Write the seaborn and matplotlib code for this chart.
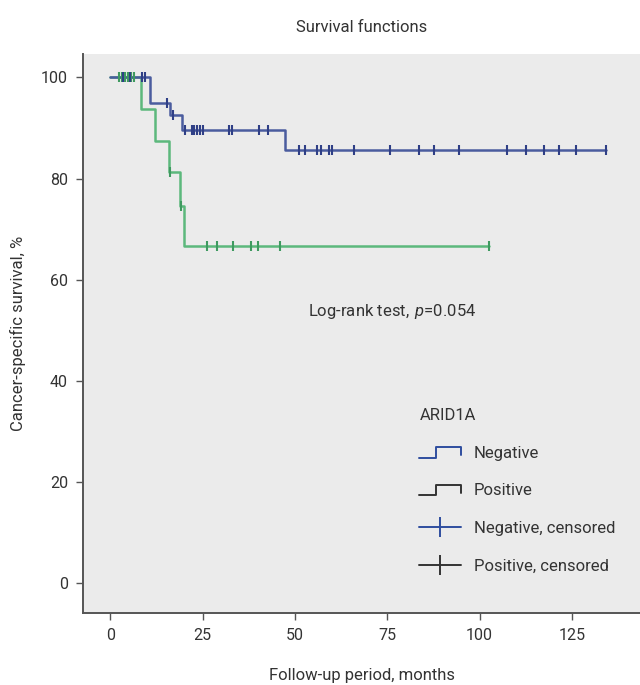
import numpy as np
import pandas as pd
import matplotlib
matplotlib.use("Agg")
import matplotlib.pyplot as plt
import seaborn as sns
from matplotlib.lines import Line2D
from matplotlib.legend_handler import HandlerBase

# Kaplan-Meier steps (months, % surviving)
neg_times = [0, 10.8, 16.1, 19.4, 47.2, 134.2]
neg_surv = [100, 94.9, 92.6, 89.6, 85.6, 85.6]
neg_censored = [3.5, 5.5, 8.6, 9.5, 15.3, 17.1,
                20.3, 22.1, 22.8, 23.5, 24.4, 25.2, 32.2, 33.1, 40.4, 42.8,
                51.0, 52.8, 56.0, 57.1, 59.2, 60.0, 66.0, 75.8, 83.7, 87.6,
                94.5, 107.4, 112.5, 117.5, 121.4, 126.2, 134.2]

pos_times = [0, 8.3, 12.2, 15.9, 19.0, 20.1, 102.6]
pos_surv = [100, 93.75, 87.5, 81.25, 74.5, 66.7, 66.7]
pos_censored = [2.5, 3.3, 4.1, 4.8, 5.6, 6.4, 16.3, 19.2,
                26.2, 29.0, 33.2, 38.1, 40.1, 46.0, 102.6]

groups = ["Negative", "Positive"]
line_colors = {"Negative": "#4a5c9e", "Positive": "#5cb87c"}
mark_colors = {"Negative": "#2f3f86", "Positive": "#3f9a60"}
legend_colors = {"Negative": "#2e4d9e", "Positive": "#333333"}


def level_at(times, surv, t):
    idx = np.searchsorted(times, t, side="right") - 1
    return np.asarray(surv)[idx]


curves = pd.concat([
    pd.DataFrame({"time": neg_times, "survival": neg_surv, "group": "Negative"}),
    pd.DataFrame({"time": pos_times, "survival": pos_surv, "group": "Positive"}),
], ignore_index=True)

censors = pd.concat([
    pd.DataFrame({"time": neg_censored,
                  "survival": level_at(neg_times, neg_surv, neg_censored),
                  "group": "Negative"}),
    pd.DataFrame({"time": pos_censored,
                  "survival": level_at(pos_times, pos_surv, pos_censored),
                  "group": "Positive"}),
], ignore_index=True)

sns.set_style("white")
plt.rcParams["font.family"] = ["Roboto", "DejaVu Sans"]
plt.rcParams["mathtext.fontset"] = "custom"
plt.rcParams["mathtext.it"] = "Roboto:italic"
plt.rcParams["mathtext.rm"] = "Roboto"
fs = 12
txt = "#333333"

fig = plt.figure(figsize=(6.4, 6.85), dpi=100)
ax = fig.add_axes([0.13, 0.105, 0.87, 0.816])
ax.set_facecolor("#ebebeb")

sns.lineplot(data=curves, x="time", y="survival", hue="group",
             hue_order=groups[::-1], palette=line_colors, estimator=None,
             sort=False, drawstyle="steps-post", linewidth=1.8, legend=False, ax=ax)
sns.scatterplot(data=censors[censors.group == "Positive"], x="time", y="survival",
                color=mark_colors["Positive"], marker="|", s=60, linewidth=1.5,
                legend=False, ax=ax, zorder=3)
sns.scatterplot(data=censors[censors.group == "Negative"], x="time", y="survival",
                color=mark_colors["Negative"], marker="|", s=60, linewidth=1.5,
                legend=False, ax=ax, zorder=4)

ax.set_xlim(-7.3, 143.4)
ax.set_ylim(-5.9, 104.6)
ax.set_xticks([0, 25, 50, 75, 100, 125])
ax.set_yticks([0, 20, 40, 60, 80, 100])

for side in ["top", "right"]:
    ax.spines[side].set_visible(False)
for side in ["left", "bottom"]:
    ax.spines[side].set_color("#555555")
    ax.spines[side].set_linewidth(1.4)
ax.tick_params(direction="out", length=5, width=1, color="#555555",
               labelcolor=txt, labelsize=11.5, pad=6, left=True, bottom=True)

ax.set_title("Survival functions", fontsize=fs, color=txt, pad=16)
ax.set_xlabel("Follow-up period, months", fontsize=fs, color=txt, labelpad=18)
ax.set_ylabel("Cancer-specific survival, %", fontsize=fs, color=txt, labelpad=11)

ax.text(53.6, 53.7, "Log-rank test, $\\,p$=0.054", fontsize=fs, color=txt,
        ha="left", va="center")


class StepHandler(HandlerBase):
    def create_artists(self, legend, orig_handle, xdescent, ydescent,
                       width, height, fontsize, trans):
        x0, y0 = -xdescent, -ydescent
        xs = [x0, x0 + 0.4 * width, x0 + 0.4 * width, x0 + width, x0 + width]
        ys = [y0 + 0.0 * height, y0 + 0.0 * height, y0 + 0.9 * height,
              y0 + 0.9 * height, y0 + 0.25 * height]
        line = Line2D(xs, ys, color=orig_handle.get_color(),
                      linewidth=orig_handle.get_linewidth())
        line.set_transform(trans)
        return [line]


neg_h = Line2D([], [], color=legend_colors["Negative"], linewidth=1.4)
pos_h = Line2D([], [], color=legend_colors["Positive"], linewidth=1.4)
negc_h = Line2D([], [], color=legend_colors["Negative"], linewidth=1.4,
                marker="|", markersize=14, markeredgewidth=1.4)
posc_h = Line2D([], [], color=legend_colors["Positive"], linewidth=1.4,
                marker="|", markersize=14, markeredgewidth=1.4)

leg = ax.legend([neg_h, pos_h, negc_h, posc_h],
                ["Negative", "Positive", "Negative, censored", "Positive, censored"],
                handler_map={neg_h: StepHandler(), pos_h: StepHandler()},
                title="ARID1A", loc="upper left", bbox_to_anchor=(0.592, 0.378),
                frameon=False, fontsize=fs, title_fontsize=fs,
                labelspacing=1.35, handlelength=2.5, handletextpad=0.75,
                numpoints=1, alignment="left", borderaxespad=0)
for t in leg.get_texts():
    t.set_color(txt)
leg.get_title().set_color(txt)

fig.savefig("out.png", dpi=100, facecolor="white")
